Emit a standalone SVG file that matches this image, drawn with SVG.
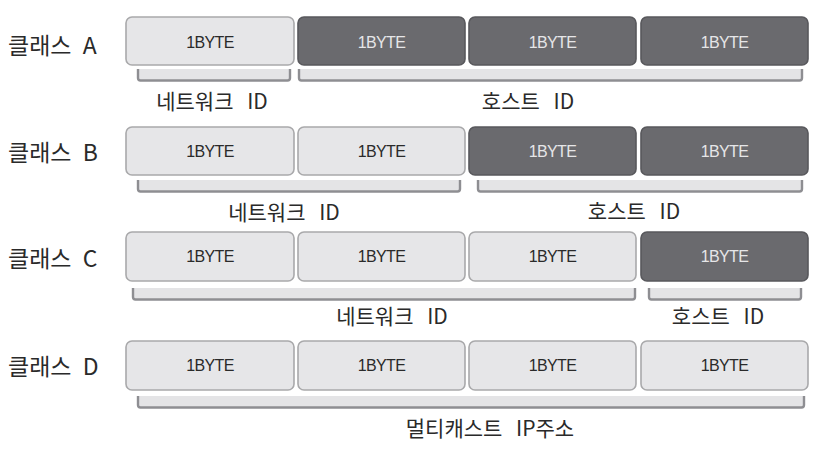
<svg xmlns="http://www.w3.org/2000/svg" width="819" height="449" viewBox="0 0 819 449">
<style>
.lb{fill:#e6e6e8;stroke:#a9a9ab;stroke-width:1.6}
.dk{fill:#6a6a6e;stroke:#58585c;stroke-width:1.6}
.bt{font-family:"Liberation Sans","Noto Sans",sans-serif;font-size:16px;text-anchor:middle;dominant-baseline:central;letter-spacing:-0.6px}
.bt1{fill:#2a2a2a}
.bt2{fill:#e6e6e8}
.rl{font-family:"Noto Sans CJK KR","Noto Sans",sans-serif;font-size:23px;fill:#2a2a2a;dominant-baseline:central;word-spacing:6px}
.gl{font-family:"Noto Sans CJK KR","Noto Sans",sans-serif;font-size:21px;fill:#2a2a2a;text-anchor:middle;dominant-baseline:central;word-spacing:9px}
.br{fill:#e4e4e6;stroke:#8e8e92;stroke-width:2.4;stroke-linejoin:round}
</style>
<rect width="819" height="449" fill="#ffffff"/>

<g id="labels">
<text class="rl" x="8" y="44">클래스 A</text>
<text class="rl" x="8" y="151">클래스 B</text>
<text class="rl" x="8" y="257">클래스 C</text>
<text class="rl" x="8" y="365">클래스 D</text>
</g>

<g id="classA">
<rect class="lb" x="126" y="17" width="168" height="48" rx="6"/>
<text class="bt bt1" x="210" y="42">1BYTE</text>
<rect class="dk" x="298" y="17" width="167" height="48" rx="6"/>
<text class="bt bt2" x="381.5" y="42">1BYTE</text>
<rect class="dk" x="469" y="17" width="167" height="48" rx="6"/>
<text class="bt bt2" x="552.5" y="42">1BYTE</text>
<rect class="dk" x="641" y="17" width="167" height="48" rx="6"/>
<text class="bt bt2" x="724.5" y="42">1BYTE</text>
</g>

<g id="classB">
<rect class="lb" x="126" y="127" width="168" height="48" rx="6"/>
<text class="bt bt1" x="210" y="151">1BYTE</text>
<rect class="lb" x="298" y="127" width="167" height="48" rx="6"/>
<text class="bt bt1" x="381.5" y="151">1BYTE</text>
<rect class="dk" x="469" y="127" width="167" height="48" rx="6"/>
<text class="bt bt2" x="552.5" y="151">1BYTE</text>
<rect class="dk" x="641" y="127" width="167" height="48" rx="6"/>
<text class="bt bt2" x="724.5" y="151">1BYTE</text>
</g>

<g id="classC">
<rect class="lb" x="126" y="232" width="168" height="49" rx="6"/>
<text class="bt bt1" x="210" y="256.5">1BYTE</text>
<rect class="lb" x="298" y="232" width="167" height="49" rx="6"/>
<text class="bt bt1" x="381.5" y="256.5">1BYTE</text>
<rect class="lb" x="469" y="232" width="167" height="49" rx="6"/>
<text class="bt bt1" x="552.5" y="256.5">1BYTE</text>
<rect class="dk" x="641" y="232" width="167" height="49" rx="6"/>
<text class="bt bt2" x="724.5" y="256.5">1BYTE</text>
</g>

<g id="classD">
<rect class="lb" x="126" y="341" width="168" height="49" rx="6"/>
<text class="bt bt1" x="210" y="365.5">1BYTE</text>
<rect class="lb" x="298" y="341" width="167" height="49" rx="6"/>
<text class="bt bt1" x="381.5" y="365.5">1BYTE</text>
<rect class="lb" x="469" y="341" width="167" height="49" rx="6"/>
<text class="bt bt1" x="552.5" y="365.5">1BYTE</text>
<rect class="lb" x="641" y="341" width="167" height="49" rx="6"/>
<text class="bt bt1" x="724.5" y="365.5">1BYTE</text>
</g>

<g id="connectors">
<path class="br" d="M138 69 V78 Q138 80.5 140.5 80.5 H287.5 Q290 80.5 290 78 V69"/>
<path class="br" d="M299 69 V78 Q299 80.5 301.5 80.5 H799.5 Q802 80.5 802 78 V69"/>
<path class="br" d="M138 180 V189 Q138 191.5 140.5 191.5 H457.5 Q460 191.5 460 189 V180"/>
<path class="br" d="M478 180 V189 Q478 191.5 480.5 191.5 H799.5 Q802 191.5 802 189 V180"/>
<path class="br" d="M133 288 V297 Q133 299.5 135.5 299.5 H632.5 Q635 299.5 635 297 V288"/>
<path class="br" d="M649 288 V297 Q649 299.5 651.5 299.5 H798.5 Q801 299.5 801 297 V288"/>
<path class="br" d="M138 396 V405 Q138 407.5 140.5 407.5 H801.5 Q804 407.5 804 405 V396"/>
</g>

<g id="groupLabels">
<text class="gl" x="212" y="100">네트워크 ID</text>
<text class="gl" x="528" y="100">호스트 ID</text>
<text class="gl" x="284" y="211">네트워크 ID</text>
<text class="gl" x="634" y="210">호스트 ID</text>
<text class="gl" x="392" y="315">네트워크 ID</text>
<text class="gl" x="718" y="315">호스트 ID</text>
<text class="gl" x="490" y="427">멀티캐스트 IP주소</text>
</g>
</svg>
